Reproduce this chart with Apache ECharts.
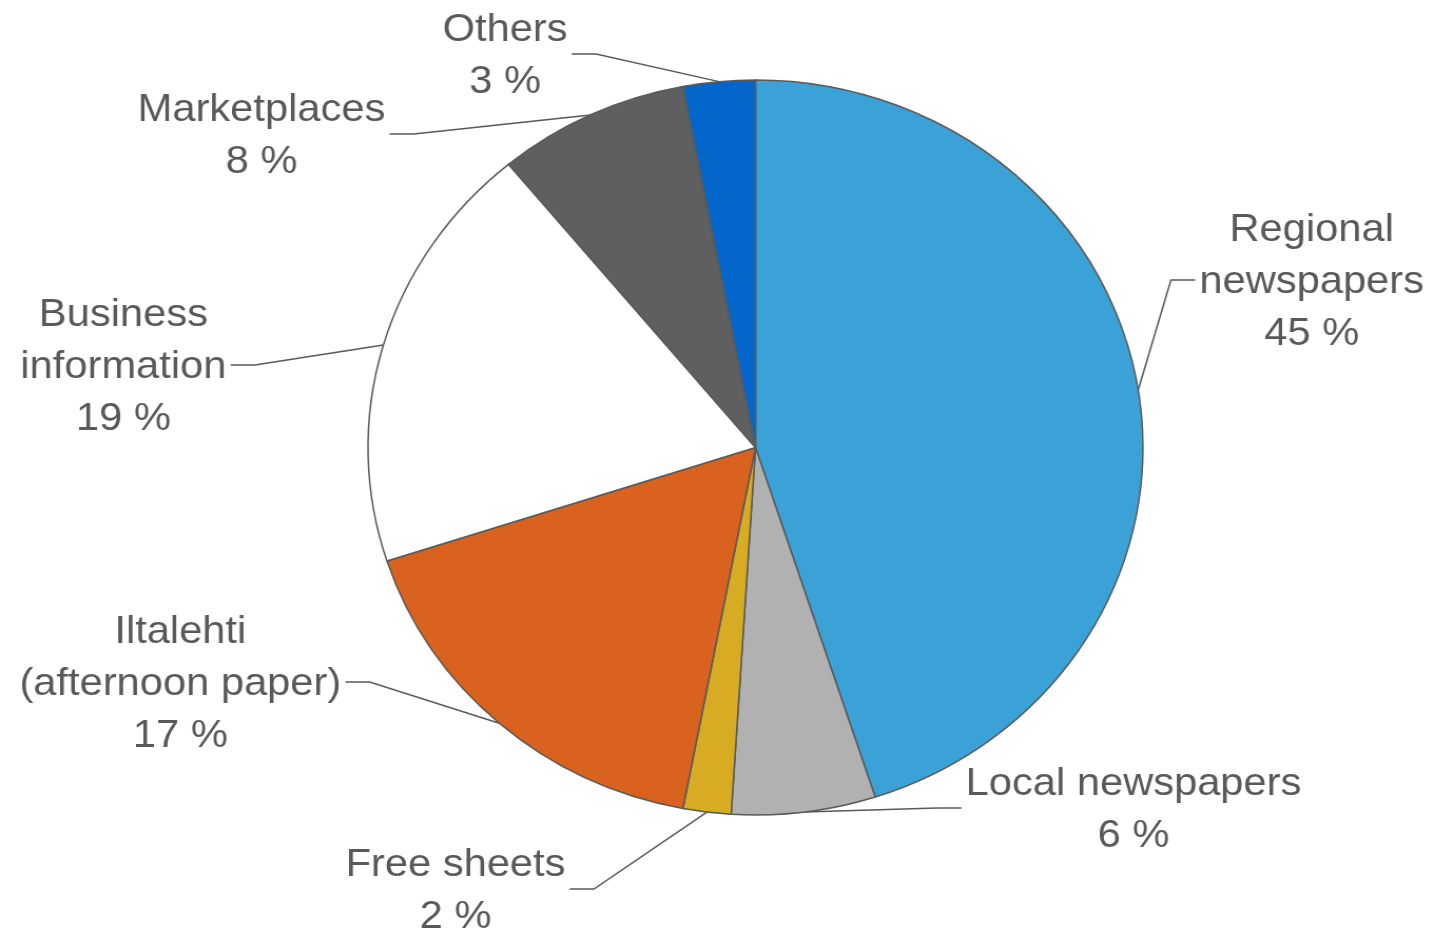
<!DOCTYPE html>
<html>
<head>
<meta charset="utf-8">
<script src="https://cdn.jsdelivr.net/npm/echarts@6/dist/echarts.min.js"></script>
<style>
html,body{margin:0;padding:0;background:#fff;overflow:hidden;}
#wrap{width:1433px;height:934px;overflow:hidden;}
#chart{width:1359px;height:934px;transform:scale(1.0544,1);transform-origin:0 0;}
</style>
</head>
<body>
<div id="wrap"><div id="chart"></div></div>
<script>
const categories = ['Regional\nnewspapers', 'Local newspapers', 'Free sheets', 'Iltalehti\n(afternoon paper)', 'Business\ninformation', 'Marketplaces', 'Others'];
const shares = [45, 6, 2, 17, 19, 8, 3];
const colors = ['#3BA2D7', '#B1B1B1', '#D8AC22', '#DA621F', '#FFFFFF', '#5F5F5F', '#0466CA'];
// label block centres (chart coords) and which side the leader line attaches
const labelCenters = [[1244, 282], [1075, 810], [432, 891], [171, 684], [117, 367], [248, 136], [479, 56]];
const labelSides = ['right', 'right', 'left', 'left', 'left', 'left', 'left'];

const cx = 716.5, cy = 447.5, R = 367.5;

const chart = echarts.init(document.getElementById('chart'), null, {renderer: 'canvas'});
chart.setOption({
  animation: false,
  backgroundColor: '#ffffff',
  series: [{
    type: 'pie',
    center: [cx, cy],
    radius: [0, R],
    startAngle: 90,
    clockwise: true,
    avoidLabelOverlap: false,
    silent: true,
    itemStyle: {borderColor: '#5a5a5a', borderWidth: 1.5},
    label: {
      show: true,
      position: 'outside',
      formatter: '{b}\n{c} %',
      color: '#595959',
      fontFamily: 'Liberation Sans, Arial, sans-serif',
      fontSize: 39.5,
      lineHeight: 52,
      align: 'center'
    },
    labelLine: {show: true, length: 10, length2: 10, smooth: false,
      lineStyle: {color: '#595959', width: 1.5}},
    labelLayout: function (params) {
      const i = params.dataIndex;
      const c = labelCenters[i];
      const w = params.labelRect.width;
      let start;
      if (params.labelLinePoints && params.labelLinePoints.length) {
        start = params.labelLinePoints[0];
      } else {
        let cum = 0;
        const total = shares.reduce((a, b) => a + b, 0);
        for (let k = 0; k < i; k++) cum += shares[k];
        const a = (cum + shares[i] / 2) / total * 2 * Math.PI;
        start = [cx + R * Math.sin(a), cy - R * Math.cos(a)];
      }
      let end, elbow;
      if (labelSides[i] === 'left') {
        end = [c[0] + w / 2 + 4, c[1] - 2];
        elbow = [end[0] + 23, c[1] - 2];
      } else {
        end = [c[0] - w / 2 - 4, c[1] - 2];
        elbow = [end[0] - 23, c[1] - 2];
      }
      return {
        x: c[0], y: c[1], align: 'center', verticalAlign: 'middle',
        labelLinePoints: [start, elbow, end]
      };
    },
    data: categories.map((n, i) => ({name: n, value: shares[i], itemStyle: {color: colors[i]}}))
  }]
});
</script>
</body>
</html>
